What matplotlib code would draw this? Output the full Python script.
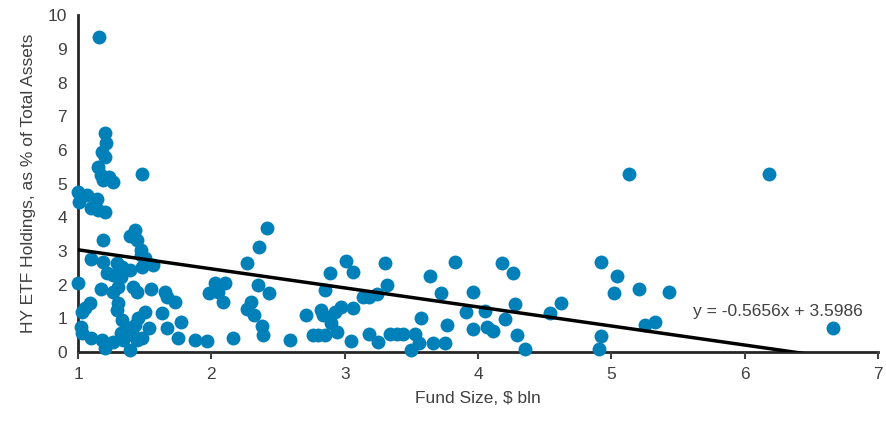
import matplotlib.pyplot as plt
import numpy as np

plt.rcParams['font.family'] = ['Liberation Sans', 'DejaVu Sans']

# Fund size ($ bln) and HY ETF holdings (% of total assets) per fund
fund_size = [
    1.16,
    1.20, 1.21, 1.18, 1.20, 1.15, 1.17, 1.23, 1.26, 1.19,
    1.48,
    1.00, 1.01, 1.07, 1.14, 1.10, 1.15, 1.20,
    1.19, 1.39, 1.43, 1.44, 1.47,
    1.00, 1.10, 1.19, 1.22, 1.29, 1.33, 1.39, 1.26, 1.32, 1.47, 1.50, 1.48, 1.56,
    1.17, 1.26, 1.30, 1.41, 1.44, 1.55, 1.65, 1.67, 1.73,
    1.09, 1.05, 1.03, 1.30, 1.29, 1.33, 1.63, 1.50, 1.45, 1.43, 1.39,
    1.02, 1.03, 1.53, 1.67, 1.77, 1.75,
    1.10, 1.18, 1.20, 1.26, 1.34, 1.41, 1.44, 1.39, 1.48, 1.32,
    1.88, 1.97, 2.16,
    1.98, 2.03, 2.05, 2.10, 2.09,
    2.27, 2.36, 2.42, 2.35, 2.43,
    2.30, 2.27, 2.32, 2.38, 2.39, 2.59,
    2.71, 2.76, 2.80, 2.85, 2.82, 2.85, 2.89, 2.84, 2.90, 2.94, 2.97, 2.93,
    3.01, 3.06, 3.06, 3.05,
    3.14, 3.18, 3.24, 3.18, 3.25, 3.30, 3.32, 3.34, 3.39, 3.44, 3.53, 3.56,
    3.50, 3.57, 3.64, 3.66, 3.72, 3.75, 3.77, 3.83,
    3.91, 3.96, 3.96, 4.05, 4.07, 4.11, 4.18, 4.26, 4.28, 4.20, 4.29, 4.35,
    4.54, 4.62, 4.92, 5.04, 5.02, 5.21, 5.43, 4.92, 4.91, 5.25, 5.33,
    5.13, 6.18, 6.66,
]
etf_holdings = [
    9.35,
    6.50, 6.20, 5.93, 5.79, 5.49, 5.25, 5.19, 5.04, 5.10,
    5.28,
    4.75, 4.45, 4.66, 4.54, 4.27, 4.21, 4.15,
    3.32, 3.44, 3.62, 3.32, 3.03,
    2.05, 2.76, 2.67, 2.34, 2.64, 2.52, 2.43, 2.28, 2.23, 2.88, 2.79, 2.52, 2.58,
    1.87, 1.78, 1.93, 1.93, 1.78, 1.87, 1.78, 1.63, 1.48,
    1.45, 1.30, 1.19, 1.45, 1.25, 0.95, 1.16, 1.19, 1.00, 0.80, 0.71,
    0.74, 0.56, 0.71, 0.71, 0.90, 0.42,
    0.42, 0.36, 0.12, 0.30, 0.36, 0.50, 0.36, 0.06, 0.42, 0.56,
    0.36, 0.33, 0.42,
    1.75, 2.05, 1.78, 2.05, 1.48,
    2.64, 3.12, 3.68, 1.99, 1.75,
    1.48, 1.28, 1.10, 0.77, 0.50, 0.36,
    1.10, 0.50, 0.50, 0.50, 1.25, 1.84, 2.34, 1.10, 0.86, 0.60, 1.34, 1.19,
    2.70, 2.37, 1.30, 0.33,
    1.63, 1.62, 1.72, 0.53, 0.30, 2.64, 1.99, 0.53, 0.53, 0.53, 0.53, 0.27,
    0.06, 1.00, 2.25, 0.27, 1.75, 0.27, 0.80, 2.67,
    1.19, 1.78, 0.68, 1.22, 0.74, 0.62, 2.64, 2.34, 1.42, 0.98, 0.50, 0.09,
    1.16, 1.45, 2.67, 2.26, 1.75, 1.87, 1.78, 0.47, 0.09, 0.80, 0.89,
    5.28, 5.28, 0.71,
]

# Linear trendline coefficients
slope = -0.5656
intercept = 3.5986

x_ticks = [1, 2, 3, 4, 5, 6, 7]
y_ticks = [0, 1, 2, 3, 4, 5, 6, 7, 8, 9, 10]

text_color = '#404040'
dot_color = '#0080B8'

fig = plt.figure(figsize=(8.87, 4.21), dpi=100)
ax = fig.add_axes([0.088, 0.164, 0.902, 0.8])

ax.scatter(fund_size, etf_holdings, s=100, color=dot_color, linewidths=0,
           zorder=2, clip_on=False)

xs = np.array([min(fund_size), max(fund_size)])
ax.plot(xs, slope * xs + intercept, color='black', linewidth=2.5, zorder=3)

label = 'y = {:.4f}x + {:.4f}'.format(slope, intercept)
ax.text(5.61, 1.2, label, fontsize=12.5, color=text_color, va='center', ha='left')

ax.set_xlim(1, 7)
ax.set_ylim(0, 10)
ax.set_xticks(x_ticks)
ax.set_yticks(y_ticks)
ax.tick_params(axis='x', length=5, width=1.5, colors=text_color, labelsize=12.5, pad=6)
ax.tick_params(axis='y', length=0, colors=text_color, labelsize=12.5, pad=8)
for lbl in ax.get_xticklabels() + ax.get_yticklabels():
    lbl.set_color(text_color)

for side in ['top', 'right']:
    ax.spines[side].set_visible(False)
for side in ['left', 'bottom']:
    ax.spines[side].set_color('#262626')
    ax.spines[side].set_linewidth(2)
    ax.spines[side].set_zorder(1)

ax.set_xlabel('Fund Size, $ bln', fontsize=12.5, color=text_color, labelpad=6)
ax.set_ylabel('HY ETF Holdings, as % of Total Assets', fontsize=12.5, color=text_color, labelpad=8)

fig.savefig('out.png', dpi=100)
